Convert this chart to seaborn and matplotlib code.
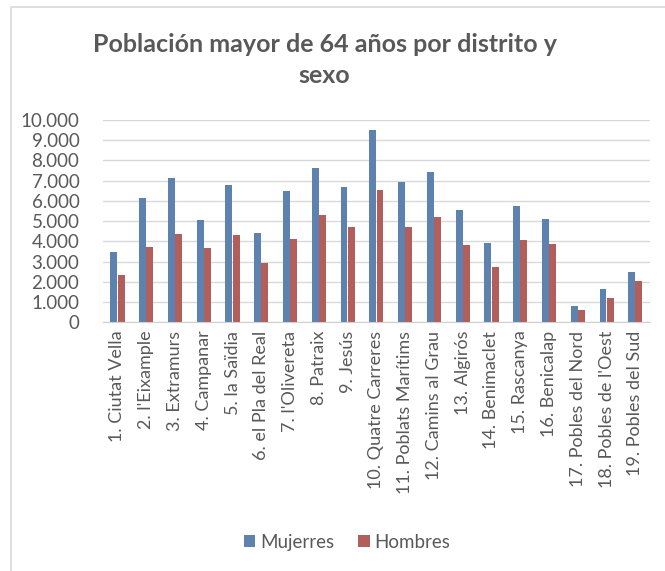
import pandas as pd
import matplotlib.pyplot as plt
import seaborn as sns
from matplotlib.patches import Rectangle

# Districts and values
distritos = ["1. Ciutat Vella", "2. l'Eixample", "3. Extramurs", "4. Campanar",
             "5. la Saïdia", "6. el Pla del Real", "7. l'Olivereta", "8. Patraix",
             "9. Jesús", "10. Quatre Carreres", "11. Poblats Marítims",
             "12. Camins al Grau", "13. Algirós", "14. Benimaclet", "15. Rascanya",
             "16. Benicalap", "17. Pobles del Nord", "18. Pobles de l'Oest",
             "19. Pobles del Sud"]
mujeres = [3460, 6160, 7150, 5060, 6770, 4400, 6510, 7630, 6670, 9490,
           6920, 7440, 5540, 3900, 5730, 5110, 820, 1650, 2470]
hombres = [2340, 3740, 4350, 3690, 4300, 2920, 4100, 5300, 4710, 6520,
           4700, 5190, 3820, 2750, 4080, 3850, 610, 1190, 2060]
yticks = [0, 1000, 2000, 3000, 4000, 5000, 6000, 7000, 8000, 9000, 10000]
ytick_labels = ["0", "1.000", "2.000", "3.000", "4.000", "5.000", "6.000",
                "7.000", "8.000", "9.000", "10.000"]

df = pd.DataFrame({
    "Distrito": distritos * 2,
    "Poblacion": mujeres + hombres,
    "Sexo": ["Mujerres"] * len(distritos) + ["Hombres"] * len(distritos),
})

sns.set_style("white")
plt.rcParams['font.family'] = ['Lato', 'DejaVu Sans']
text_color = "#595959"

fig = plt.figure(figsize=(6.65, 5.71), dpi=100)
ax = fig.add_axes([0.155, 0.4355, 0.822, 0.3545])

sns.barplot(data=df, x="Distrito", y="Poblacion", hue="Sexo",
            palette=["#4F81BD", "#C0504D"], width=0.5, gap=0.04,
            edgecolor="none", ax=ax, legend=True)

ax.set_ylim(0, 10000)
ax.set_xlim(-0.5, len(distritos) - 0.5)
ax.set_yticks(yticks)
ax.set_yticklabels(ytick_labels)
ax.yaxis.grid(True, color="#D9D9D9", linewidth=1)
ax.set_axisbelow(True)
for side in ["top", "right", "left"]:
    ax.spines[side].set_visible(False)
ax.spines["bottom"].set_color("#D0D0D0")
ax.tick_params(axis="both", length=0, colors=text_color, labelsize=13)
ax.tick_params(axis="y", labelsize=13.5, pad=17)
ax.tick_params(axis="x", pad=6)
plt.setp(ax.get_xticklabels(), rotation=90)
ax.set_xlabel("")
ax.set_ylabel("")

# Legend at the bottom
ax.get_legend().remove()
handles, labels = ax.get_legend_handles_labels()
fig.legend(handles, labels, loc="center", bbox_to_anchor=(0.522, 0.05),
           ncol=2, frameon=False, fontsize=13.5, handlelength=0.6,
           handleheight=0.6, handletextpad=0.25, columnspacing=1.3,
           labelcolor=text_color)

fig.text(0.488, 0.895, "Población mayor de 64 años por distrito y\nsexo",
         ha="center", va="center", fontsize=18, fontweight="bold",
         color=text_color, linespacing=1.45)

# Chart area border
fig.patches.append(Rectangle((11 / 665, -0.1), 1.2, 1.1 - 7 / 571,
                             transform=fig.transFigure, fill=False,
                             edgecolor="#D9D9D9", linewidth=1.2))

fig.savefig("out.png", dpi=100)
